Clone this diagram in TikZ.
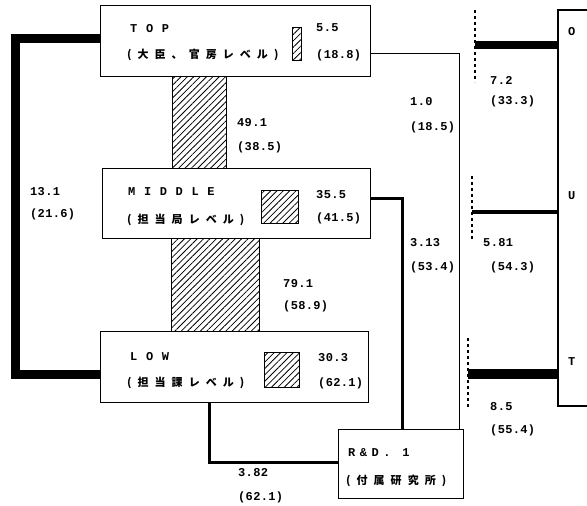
\documentclass[tikz,border=0pt]{standalone}
\usepackage{fontspec}
\usetikzlibrary{patterns.meta}
\newfontfamily\numf[LetterSpace=3]{Liberation Mono}
\newfontfamily\hdrf[LetterSpace=72]{Liberation Mono}
\newfontfamily\rdf[LetterSpace=38]{Liberation Mono}
\newfontfamily\jpf[LetterSpace=55]{Noto Sans CJK JP}
\begin{document}
\begin{tikzpicture}[x=1pt,y=-1pt,
  box/.style={draw, line width=1.1pt, fill=white, inner sep=0pt, anchor=north west},
  hatch/.style={draw, line width=1pt, inner sep=0pt, anchor=north west,
    pattern={Lines[angle=45,distance=4.5pt,line width=0.8pt]}},
  num/.style={anchor=west, inner sep=0pt, font=\numf\bfseries\fontsize{12}{12}\selectfont},
  hdr/.style={anchor=west, inner sep=0pt, font=\hdrf\bfseries\fontsize{12}{12}\selectfont},
  rdt/.style={anchor=west, inner sep=0pt, font=\rdf\bfseries\fontsize{12}{12}\selectfont},
  jp/.style={anchor=west, inner sep=0pt, font=\jpf\bfseries\fontsize{11}{11}\selectfont},
  thinline/.style={line width=0.9pt},
  medline/.style={line width=3.5pt},
  dashline/.style={line width=1.1pt, dash pattern=on 3pt off 3pt},
]
\useasboundingbox (0,0) rectangle (587,506);
% hatched bars
\node[hatch, minimum width=54pt, minimum height=92pt] (bar1) at (172,76) {};
\node[hatch, minimum width=88pt, minimum height=94pt] (bar2) at (171,238) {};
% boxes
\node[box, minimum width=270pt, minimum height=71pt] (top) at (100,5) {};
\node[box, minimum width=268pt, minimum height=70pt] (mid) at (102,168) {};
\node[box, minimum width=268pt, minimum height=71pt] (low) at (100,331) {};
\node[box, minimum width=125pt, minimum height=69pt] (rd) at (338,429) {};
% small hatched squares
\node[hatch, minimum width=9pt, minimum height=33pt] (stop) at (292,27) {};
\node[hatch, minimum width=37pt, minimum height=33pt] (smid) at (261,190) {};
\node[hatch, minimum width=35pt, minimum height=35pt] (slow) at (264,352) {};
% box texts
\node[hdr] (ttop) at (130,29) {TOP};
\node[jp] (jtop) at (127,55) {(大臣、官房レベル)};
\node[hdr] (tmid) at (128,192) {MIDDLE};
\node[jp] (jmid) at (127,220) {(担当局レベル)};
\node[hdr] (tlow) at (130,357) {LOW};
\node[jp] (jlow) at (127,383) {(担当課レベル)};
\node[rdt] (trd) at (348,453) {R\&D. 1};
\node[jp] (jrd) at (346,481) {(付属研究所)};
% numbers in boxes
\node[num] (n1) at (316,28) {5.5};
\node[num] (n2) at (316,55) {(18.8)};
\node[num] (n3) at (316,195) {35.5};
\node[num] (n4) at (316,218) {(41.5)};
\node[num] (n5) at (318,358) {30.3};
\node[num] (n6) at (318,383) {(62.1)};
% flow labels
\node[num] (l1) at (237,123) {49.1};
\node[num] (l2) at (237,147) {(38.5)};
\node[num] (l3) at (30,192) {13.1};
\node[num] (l4) at (30,214) {(21.6)};
\node[num] (l5) at (283,284) {79.1};
\node[num] (l6) at (283,306) {(58.9)};
\node[num] (l7) at (410,102) {1.0};
\node[num] (l8) at (410,127) {(18.5)};
\node[num] (l9) at (410,243) {3.13};
\node[num] (l10) at (410,267) {(53.4)};
\node[num] (l11) at (238,473) {3.82};
\node[num] (l12) at (238,497) {(62.1)};
\node[num] (l13) at (490,80) {7.2};
\node[num] (l14) at (490,101) {(33.3)};
\node[num] (l15) at (483,243) {5.81};
\node[num] (l16) at (490,267) {(54.3)};
\node[num] (l17) at (490,407) {8.5};
\node[num] (l18) at (490,430) {(55.4)};
% right block
\coordinate (b1) at (587,10);
\coordinate (b2) at (558,10);
\coordinate (b3) at (558,406);
\coordinate (b4) at (587,406);
\draw[line width=1.1pt] (b1) -- (b2) -- (b3) -- (b4);
\node[hdr] (lo) at (568,32) {O};
\node[hdr] (lu) at (568,196) {U};
\node[hdr] (lt) at (568,362) {T};
% left thick connector
\coordinate (lx) at (15,200);
\draw[line width=9pt, line join=miter] ([yshift=3pt]top.west) -| (lx) |- ([yshift=-7.5pt]low.west);
% thin connector TOP -> R&D
\draw[thinline] ([yshift=-12.5pt]top.east) -| ([xshift=-5pt]rd.north east);
% MIDDLE -> R&D
\draw[medline, line join=miter] ([yshift=5pt]mid.east) -| ([xshift=1.5pt]rd.north);
% LOW -> R&D
\draw[line width=3pt, line join=miter] ([xshift=-25pt]low.south) |- ([yshift=1.5pt]rd.west);
% right side dashed markers and thick lines
\coordinate (d1a) at (475,10); \coordinate (d1b) at (475,82);
\coordinate (d2a) at (472,176); \coordinate (d2b) at (472,240);
\coordinate (d3a) at (468,338); \coordinate (d3b) at (468,407);
\draw[dashline] (d1a) -- (d1b);
\draw[dashline] (d2a) -- (d2b);
\draw[dashline] (d3a) -- (d3b);
\coordinate (o1) at (475,45);
\coordinate (u1) at (472,212);
\coordinate (t1) at (468,374);
\draw[line width=8pt] (o1) -- (o1 -| b2);
\draw[line width=4.5pt] (u1) -- (u1 -| b2);
\draw[line width=10pt] (t1) -- (t1 -| b2);
\end{tikzpicture}
\end{document}
